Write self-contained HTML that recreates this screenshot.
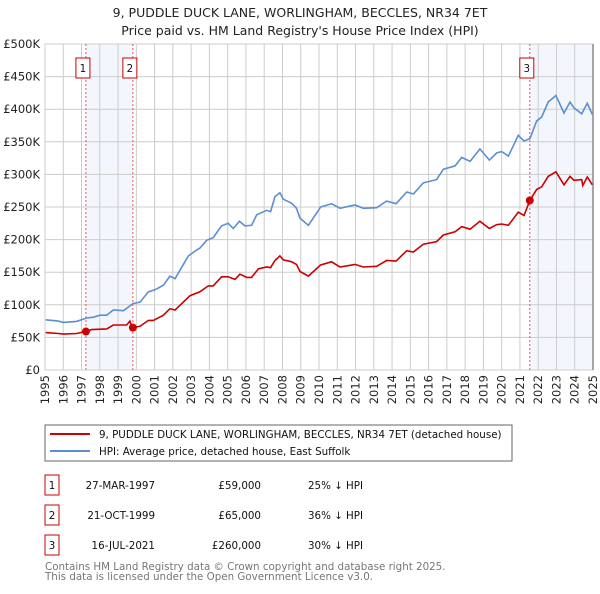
<!DOCTYPE html>
<html><head><meta charset="utf-8"><style>
body{margin:0;background:#fff;font-family:"DejaVu Sans","Liberation Sans",sans-serif;}
svg text{font-family:"DejaVu Sans","Liberation Sans",sans-serif;}
</style></head><body>
<svg id="chart" width="600" height="590" viewBox="0 0 600 590" xmlns="http://www.w3.org/2000/svg">
<text x="300" y="17" text-anchor="middle" font-size="12.5" fill="#222">9, PUDDLE DUCK LANE, WORLINGHAM, BECCLES, NR34 7ET</text>
<text x="300" y="35" text-anchor="middle" font-size="12.5" fill="#222">Price paid vs. HM Land Registry's House Price Index (HPI)</text>
<g id="shade"></g><g id="grid"></g><g id="axes"></g><g id="series"></g><g id="markers"></g>
<rect x="45" y="425" width="467" height="36" fill="#fff" stroke="#666"/>
<line x1="50" y1="434" x2="90" y2="434" stroke="#cc0000" stroke-width="2"/>
<text x="99" y="438" font-size="10.3" fill="#111">9, PUDDLE DUCK LANE, WORLINGHAM, BECCLES, NR34 7ET (detached house)</text>
<line x1="50" y1="451" x2="90" y2="451" stroke="#5b8fd0" stroke-width="2"/>
<text x="99" y="455" font-size="10.3" fill="#111">HPI: Average price, detached house, East Suffolk</text>
<g id="table" font-size="10.3" fill="#111"></g>
<text x="45" y="570" font-size="10.3" fill="#777">Contains HM Land Registry data © Crown copyright and database right 2025.</text>
<text x="45" y="580" font-size="10.3" fill="#777">This data is licensed under the Open Government Licence v3.0.</text>
</svg>
<script>
const hpiYears=[1995.04,1995.73,1996.0,1996.73,1997.28,1997.65,1998.01,1998.38,1998.74,1999.29,1999.83,2000.2,2000.66,2001.02,2001.48,2001.84,2002.12,2002.39,2002.85,2003.3,2003.48,2003.85,2004.21,2004.67,2005.03,2005.31,2005.64,2005.95,2006.31,2006.59,2007.13,2007.35,2007.59,2007.86,2008.04,2008.5,2008.77,2008.96,2009.42,2010.09,2010.69,2011.15,2011.97,2012.43,2013.16,2013.7,2014.22,2014.8,2015.17,2015.71,2016.44,2016.81,2017.45,2017.81,2018.27,2018.81,2019.33,2019.73,2020.0,2020.37,2020.91,2021.22,2021.55,2021.92,2022.19,2022.55,2022.97,2023.41,2023.74,2023.96,2024.38,2024.69,2024.96];
const hpiValues=[77,75,73,74.5,79.8,81,84,84,92,91,102,104,120,123,130,144,140,153,175,184,187,199,203,221,225,217,228,221,222,238,245,243,266,272,262,256,248,233,222,250,255,248,253,248,249,259,255,273,270,287,292,308,313,326,320,339,322,333,335,328,360,351,355,382,388,411,421,394,411,402,393,409,392];
const ppYears=[1995.04,1995.73,1996.0,1996.73,1997.23,1997.55,1998.38,1998.74,1999.47,1999.65,1999.78,2000.2,2000.66,2000.93,2001.48,2001.84,2002.12,2002.94,2003.48,2003.94,2004.21,2004.67,2005.03,2005.4,2005.67,2006.04,2006.31,2006.68,2007.13,2007.35,2007.59,2007.86,2008.04,2008.5,2008.77,2008.96,2009.42,2010.09,2010.69,2011.15,2011.97,2012.43,2013.16,2013.7,2014.22,2014.8,2015.17,2015.71,2016.44,2016.81,2017.45,2017.81,2018.27,2018.81,2019.33,2019.73,2020.0,2020.37,2020.91,2021.22,2021.54,2021.92,2022.19,2022.55,2022.97,2023.41,2023.74,2023.96,2024.38,2024.44,2024.69,2024.96];
const ppValues=[57.3,56,55,56,59,62,63,69,69,75,65,67,76,76,84,94,92,114,120,129,129,143,143,139,147,142,142,155,158,157,168,175,169,166,162,151,144,161,166,158,162,158,159,168,167,183,181,193,197,207,212,220,216,228,217,223,224,222,242,237,260,277,281,297,304,284,297,291,292,283,296,284];
const saleYears=[1997.24,1999.81,2021.54];
const saleValues=[59,65,260];
const saleLabels=["1","2","3"];
const saleDates=["27-MAR-1997","21-OCT-1999","16-JUL-2021"];
const salePrices=["£59,000","£65,000","£260,000"];
const saleHpi=["25% ↓ HPI","36% ↓ HPI","30% ↓ HPI"];
const yTicks=[0,50,100,150,200,250,300,350,400,450,500];
const yTickLabels=["£0","£50K","£100K","£150K","£200K","£250K","£300K","£350K","£400K","£450K","£500K"];
const xTicks=[1995,1996,1997,1998,1999,2000,2001,2002,2003,2004,2005,2006,2007,2008,2009,2010,2011,2012,2013,2014,2015,2016,2017,2018,2019,2020,2021,2022,2023,2024,2025];

const NS="http://www.w3.org/2000/svg";
const X0=45,X1=593,Y0=370,Y1=44;
const xs=y=>X0+(y-1995)/30*(X1-X0);
const ys=v=>Y0-v/500*(Y0-Y1);
function mk(tag,attrs,parent){const e=document.createElementNS(NS,tag);for(const k in attrs)e.setAttribute(k,attrs[k]);document.getElementById(parent).appendChild(e);return e;}

let r=mk('rect',{x:xs(saleYears[0]),y:Y1,width:xs(saleYears[1])-xs(saleYears[0]),height:Y0-Y1,fill:'#eef3fc',opacity:0.7},'shade');


r=mk('rect',{x:xs(saleYears[2]),y:Y1,width:X1-xs(saleYears[2]),height:Y0-Y1,fill:'#eef3fc',opacity:0.7},'shade');



yTicks.forEach((v,i)=>{
 let l=mk('line',{x1:X0,x2:X1,y1:ys(v),y2:ys(v),stroke:'#ccc','stroke-width':1},'grid');
 
 
 let t=mk('text',{x:40,y:ys(v)+4,'text-anchor':'end','font-size':'11.5',fill:'#222'},'axes');
 t.textContent=yTickLabels[i];
 
 
});
xTicks.forEach(y=>{
 let l=mk('line',{x1:xs(y),x2:xs(y),y1:Y1,y2:Y0,stroke:'#ccc','stroke-width':1},'grid');
 
 
 let t=mk('text',{x:0,y:0,'text-anchor':'end','font-size':'11.5',fill:'#222',transform:`translate(${xs(y)+4},375) rotate(-90)`},'axes');
 t.textContent=y;
 
 
});
let ax=mk('line',{x1:X1,x2:X1,y1:Y1,y2:Y0,stroke:'#888','stroke-width':1.5},'grid');



function path(xa,va){return xa.map((y,i)=>(i?'L':'M')+xs(y).toFixed(1)+','+ys(va[i]).toFixed(1)).join('');}
let p=mk('path',{d:path(hpiYears,hpiValues),fill:'none',stroke:'#5b8fd0','stroke-width':1.6},'series');


p=mk('path',{d:path(ppYears,ppValues),fill:'none',stroke:'#cc0000','stroke-width':1.6},'series');



saleYears.forEach((y,i)=>{
 let l=mk('line',{x1:xs(y),x2:xs(y),y1:Y1,y2:Y0,stroke:'#ee5555','stroke-width':1,'stroke-dasharray':'2,2'},'markers');
 
 
 let c=mk('circle',{cx:xs(y),cy:ys(saleValues[i]),r:4,fill:'#cc0000'},'markers');
 
 
 let b=mk('rect',{x:xs(y)-10,y:58,width:14,height:20,fill:'#fff',stroke:'#cc0000'},'markers');
 
 
 let t=mk('text',{x:xs(y)-3,y:72,'text-anchor':'middle','font-size':'10.3',fill:'#111'},'markers');
 t.textContent=saleLabels[i];
 
 
 const ry=475+i*30;
 let tb=mk('rect',{x:45,y:ry,width:14,height:20,fill:'#fff',stroke:'#cc0000'},'table');
 
 
 const cells=[[52,'middle',saleLabels[i],'table-row-number'],[155,'end',saleDates[i],'table-row-date'],[261,'end',salePrices[i],'table-row-price'],[308,'start',saleHpi[i],'table-row-hpi']];
 cells.forEach(cl=>{let tt=mk('text',{x:cl[0],y:ry+14,'text-anchor':cl[1]},'table');tt.textContent=cl[2];
  
  });
});
</script>
</body></html>
